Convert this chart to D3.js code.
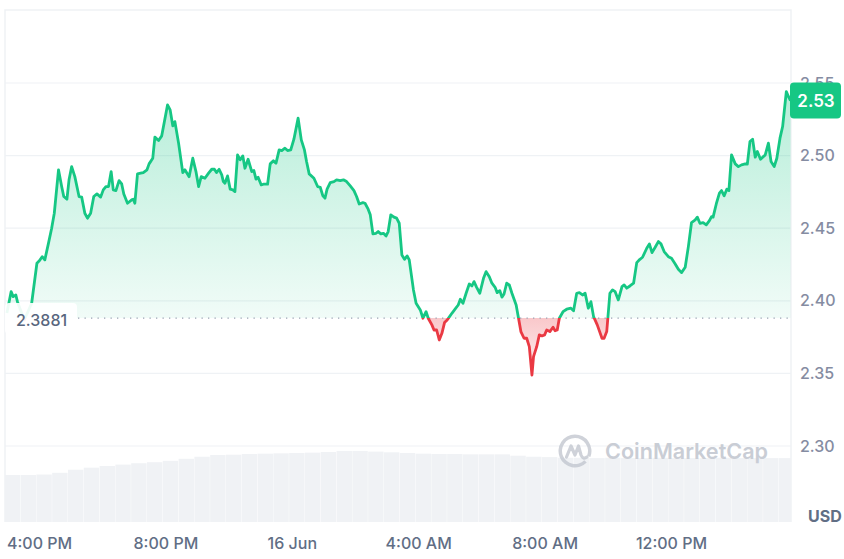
<!DOCTYPE html>
<html>
<head>
<meta charset="utf-8">
<script src="https://cdn.jsdelivr.net/npm/d3@7"></script>
<style>
    body { margin: 0; background: #fff; }
    svg text { font-family: Inter, "Noto Sans", sans-serif; }
</style>
</head>
<body>
<svg id="chart" width="844" height="559"></svg>
<script>
// minutes after 15 Jun 15:00
var priceMinutes = [
    -1, 7, 11, 16, 19, 32, 46, 56, 61, 66,
    71, 78, 84, 89, 97, 103, 107, 113, 117, 122,
    128, 136, 141, 147, 152, 158, 164, 170, 177, 182,
    187, 192, 197, 201, 206, 212, 217, 221, 228, 236,
    239, 242, 247, 253, 258, 265, 269, 276, 280, 287,
    293, 304, 309, 314, 318, 325, 333, 337, 345, 352,
    358, 363, 368, 375, 382, 388, 393, 397, 402, 407,
    410, 413, 418, 423, 428, 432, 437, 442, 447, 451,
    457, 464, 468, 472, 476, 482, 486, 494, 499, 505,
    510, 516, 521, 527, 532, 538, 544, 552, 558, 564,
    568, 573, 582, 589, 594, 599, 603, 607, 613, 620,
    625, 632, 638, 644, 651, 658, 663, 668, 675, 679,
    685, 689, 694, 700, 704, 709, 714, 719, 723, 728,
    734, 739, 744, 749, 754, 759, 763, 771, 776, 784,
    789, 795, 799, 806, 810, 815, 820, 825, 830, 835,
    844, 850, 856, 860, 865, 871, 877, 882, 886, 891,
    897, 904, 909, 915, 920, 926, 930, 935, 939, 943,
    948, 953, 958, 966, 970, 975, 981, 986, 991, 996,
    999, 1005, 1010, 1015, 1020, 1024, 1030, 1036, 1040, 1044,
    1048, 1055, 1062, 1070, 1075, 1081, 1086, 1092, 1097, 1103,
    1108, 1113, 1120, 1129, 1133, 1138, 1144, 1149, 1154, 1160,
    1167, 1171, 1176, 1182, 1189, 1195, 1201, 1206, 1214, 1219,
    1224, 1230, 1236, 1241, 1247, 1255, 1261, 1268, 1274, 1280,
    1287, 1293, 1299, 1306, 1310, 1315, 1321, 1327, 1333, 1337,
    1340, 1346, 1352, 1356, 1361, 1366, 1370, 1375, 1382, 1388,
    1394, 1401, 1405, 1410, 1415, 1420, 1424, 1430, 1439, 1445,
    1450, 1456, 1461, 1467, 1472, 1479, 1483, 1487
]

var priceValues = [
    2.3916, 2.4063, 2.4029, 2.4040, 2.3994, 2.3868, 2.3983, 2.4259, 2.4277, 2.4304,
    2.4282, 2.4397, 2.4500, 2.4603, 2.4902, 2.4787, 2.4718, 2.4700, 2.4833, 2.4924,
    2.4855, 2.4718, 2.4714, 2.4603, 2.4569, 2.4603, 2.4718, 2.4736, 2.4714, 2.4764,
    2.4787, 2.4787, 2.4890, 2.4764, 2.4759, 2.4828, 2.4805, 2.4736, 2.4672, 2.4695,
    2.4700, 2.4672, 2.4874, 2.4879, 2.4883, 2.4902, 2.4943, 2.4982, 2.5127, 2.5104,
    2.5136, 2.5349, 2.5315, 2.5205, 2.5234, 2.5086, 2.4883, 2.4902, 2.4855, 2.4982,
    2.4890, 2.4787, 2.4855, 2.4844, 2.4879, 2.4906, 2.4906, 2.4883, 2.4906, 2.4867,
    2.4821, 2.4810, 2.4860, 2.4769, 2.4764, 2.4752, 2.5005, 2.4971, 2.4998, 2.4913,
    2.4975, 2.4890, 2.4897, 2.4838, 2.4851, 2.4798, 2.4803, 2.4803, 2.4943, 2.4964,
    2.4948, 2.5039, 2.5035, 2.5051, 2.5035, 2.5039, 2.5113, 2.5258, 2.5108, 2.5039,
    2.4959, 2.4874, 2.4844, 2.4787, 2.4782, 2.4723, 2.4707, 2.4769, 2.4814, 2.4821,
    2.4833, 2.4828, 2.4833, 2.4821, 2.4791, 2.4759, 2.4718, 2.4667, 2.4676, 2.4672,
    2.4631, 2.4592, 2.4461, 2.4465, 2.4477, 2.4461, 2.4465, 2.4447, 2.4477, 2.4592,
    2.4576, 2.4569, 2.4534, 2.4316, 2.4286, 2.4309, 2.4282, 2.4075, 2.3983, 2.3937,
    2.3880, 2.3925, 2.3880, 2.3834, 2.3799, 2.3799, 2.3730, 2.3776, 2.3850, 2.3868,
    2.3914, 2.3942, 2.3971, 2.4011, 2.3983, 2.4052, 2.4116, 2.4102, 2.4132, 2.4093,
    2.4052, 2.4155, 2.4201, 2.4166, 2.4121, 2.4093, 2.4056, 2.4070, 2.4025, 2.4047,
    2.4121, 2.4109, 2.4052, 2.3971, 2.3891, 2.3788, 2.3742, 2.3742, 2.3684, 2.3489,
    2.3615, 2.3684, 2.3765, 2.3758, 2.3765, 2.3799, 2.3788, 2.3818, 2.3794, 2.3799,
    2.3880, 2.3925, 2.3942, 2.3949, 2.3932, 2.4052, 2.4056, 2.4040, 2.4052, 2.3949,
    2.3994, 2.3891, 2.3834, 2.3742, 2.3742, 2.3788, 2.4052, 2.4075, 2.4063, 2.4006,
    2.4098, 2.4109, 2.4087, 2.4102, 2.4121, 2.4263, 2.4286, 2.4300, 2.4362, 2.4392,
    2.4332, 2.4369, 2.4408, 2.4392, 2.4339, 2.4304, 2.4293, 2.4254, 2.4217, 2.4194,
    2.4231, 2.4373, 2.4539, 2.4557, 2.4576, 2.4534, 2.4539, 2.4523, 2.4552, 2.4580,
    2.4576, 2.4667, 2.4741, 2.4759, 2.4723, 2.4769, 2.4759, 2.5005, 2.4943, 2.4924,
    2.4936, 2.4943, 2.4941, 2.5097, 2.5113, 2.4989, 2.5028, 2.4975, 2.5005, 2.5086,
    2.4959, 2.4924, 2.4982, 2.5120, 2.5200, 2.5441, 2.5407, 2.5379
]

// 30 minute volume buckets, starting 15 Jun 14:55 (millions USD)
var volumeValues = [
    68.8, 68.8, 69.5, 72, 76.5, 79.5, 82, 84, 86, 87.5,
    89.5, 92.5, 95.5, 98, 98.5, 99.5, 100, 100.5, 101, 101.5,
    102.5, 104, 104, 103, 102, 101, 100, 99.5, 99.5, 99,
    99, 99, 97, 95.5, 95, 94, 94, 93.5, 94, 93.5,
    93.5, 94, 93.5, 93.5, 93.5, 94, 93.5, 93.5, 93.5, 93.5
]

var yTicks = [2.30, 2.35, 2.40, 2.45, 2.50, 2.55]
var xTickTimes = [
    new Date(2024, 5, 15, 16), new Date(2024, 5, 15, 20), new Date(2024, 5, 16, 0),
    new Date(2024, 5, 16, 4), new Date(2024, 5, 16, 8), new Date(2024, 5, 16, 12)
]
var xTickLabels = ["4:00 PM", "8:00 PM", "16 Jun", "4:00 AM", "8:00 AM", "12:00 PM"]
var baseline = 2.3881
var lastPriceLabel = "2.53"

var dims = { left: 5, right: 791, top: 10, bottom: 522 }
var green = "#16c784"
var red = "#ea3943"

var start = new Date(2024, 5, 15, 15, 0)
var volStart = new Date(2024, 5, 15, 14, 55)
var data = priceMinutes.map(function (m, i) {
    return { t: new Date(start.getTime() + m * 60000), p: priceValues[i] }
})

var xScale = d3.scaleTime()
    .domain([new Date(2024, 5, 15, 14, 55, 24), new Date(2024, 5, 16, 15, 46)])
    .range([5, 790])
var yScale = d3.scaleLinear().domain([2.30, 2.55]).range([446, 83])
var vScale = d3.scaleLinear().domain([0, 120]).range([dims.bottom, 440])

var svg = d3.select("#chart")
var yBase = yScale(baseline)

var defs = svg.append("defs")
var gg = defs.append("linearGradient").attr("id", "gGreen")
    .attr("gradientUnits", "userSpaceOnUse")
    .attr("x1", 0).attr("x2", 0).attr("y1", 85).attr("y2", yBase)
gg.append("stop").attr("offset", 0).attr("stop-color", green).attr("stop-opacity", 0.32)
gg.append("stop").attr("offset", 1).attr("stop-color", green).attr("stop-opacity", 0.06)
var gr = defs.append("linearGradient").attr("id", "gRed")
    .attr("gradientUnits", "userSpaceOnUse")
    .attr("x1", 0).attr("x2", 0).attr("y1", yBase).attr("y2", 378)
gr.append("stop").attr("offset", 0).attr("stop-color", red).attr("stop-opacity", 0.28)
gr.append("stop").attr("offset", 1).attr("stop-color", red).attr("stop-opacity", 0.06)

defs.append("clipPath").attr("id", "above").append("rect")
    .attr("x", dims.left).attr("y", 0).attr("width", dims.right - dims.left).attr("height", yBase)
defs.append("clipPath").attr("id", "below").append("rect")
    .attr("x", dims.left).attr("y", yBase).attr("width", dims.right - dims.left).attr("height", 559 - yBase)
defs.append("clipPath").attr("id", "plot").append("rect")
    .attr("x", dims.left).attr("y", dims.top).attr("width", dims.right - dims.left).attr("height", dims.bottom - dims.top)

// frame
svg.append("path")
    .attr("d", "M" + dims.left + "," + dims.bottom + "V" + dims.top + "H" + dims.right + "V" + dims.bottom)
    .attr("fill", "none")
    .attr("stroke", "#eff2f5")
    .attr("stroke-width", 1.5)

// gridlines
svg.selectAll(".grid")
    .data(yTicks)
    .enter()
    .append("line")
    .attr("x1", dims.left).attr("x2", dims.right)
    .attr("y1", function (d) { return yScale(d) })
    .attr("y2", function (d) { return yScale(d) })
    .attr("stroke", "#eff2f5")
    .attr("stroke-width", 1.2)

// volume
svg.append("g")
    .attr("clip-path", "url(#plot)")
    .selectAll("rect")
    .data(volumeValues)
    .enter()
    .append("rect")
    .attr("x", function (d, i) { return xScale(new Date(volStart.getTime() + i * 1800000)) })
    .attr("width", function (d, i) {
        var a = new Date(volStart.getTime() + i * 1800000)
        return xScale(new Date(a.getTime() + 1800000)) - xScale(a) - 0.4
    })
    .attr("y", function (d) { return vScale(d) })
    .attr("height", function (d) { return dims.bottom - vScale(d) })
    .attr("fill", "#f0f2f5")

// watermark
var wm = svg.append("g").attr("transform", "translate(575,451)").attr("opacity", 0.75)
wm.append("path")
    .attr("d", d3.arc()({ innerRadius: 13, outerRadius: 16.5, startAngle: 2.35, endAngle: 2 * Math.PI + 1.95 }))
    .attr("fill", "#bfc4cd")
wm.append("path")
    .attr("d", "M-8.5,6 L-4,-5 L0,4 L3.5,-5 L6,4 Q8,9 12,6")
    .attr("fill", "none")
    .attr("stroke", "#bfc4cd")
    .attr("stroke-width", 3.2)
    .attr("stroke-linejoin", "round")
    .attr("stroke-linecap", "round")
svg.append("text")
    .attr("x", 605).attr("y", 459)
    .attr("textLength", 163).attr("lengthAdjust", "spacingAndGlyphs")
    .style("font-size", "22px").style("font-weight", 600)
    .attr("fill", "#c9cdd5")
    .text("CoinMarketCap")

// areas and lines
var area = d3.area()
    .x(function (d) { return xScale(d.t) })
    .y0(yBase)
    .y1(function (d) { return yScale(d.p) })
var line = d3.line()
    .x(function (d) { return xScale(d.t) })
    .y(function (d) { return yScale(d.p) })

svg.append("path").attr("d", area(data)).attr("fill", "url(#gGreen)").attr("clip-path", "url(#above)")
svg.append("path").attr("d", area(data)).attr("fill", "url(#gRed)").attr("clip-path", "url(#below)")

svg.append("line")
    .attr("x1", 78).attr("x2", dims.right - 2)
    .attr("y1", yBase).attr("y2", yBase)
    .attr("stroke", "#9aa3b2")
    .attr("stroke-width", 1.3)
    .attr("stroke-dasharray", "1.3,5.2")

svg.append("path").attr("d", line(data))
    .attr("fill", "none").attr("stroke", green).attr("stroke-width", 2.8)
    .attr("stroke-linejoin", "round").attr("clip-path", "url(#above)")
svg.append("path").attr("d", line(data))
    .attr("fill", "none").attr("stroke", red).attr("stroke-width", 2.8)
    .attr("stroke-linejoin", "round").attr("clip-path", "url(#below)")

// baseline label
svg.append("rect")
    .attr("x", 5).attr("y", yBase - 15).attr("width", 72).attr("height", 31).attr("rx", 4)
    .attr("fill", "#fff").attr("opacity", 0.92)
svg.append("text")
    .attr("x", 16).attr("y", yBase + 8)
    .style("font-size", "16px").style("font-weight", 500)
    .attr("fill", "#58667e")
    .text(d3.format(".4f")(baseline))

// y axis labels
var yAxis = d3.axisRight(yScale).tickValues(yTicks).tickSize(0).tickFormat(d3.format(".2f"))
var yg = svg.append("g").attr("transform", "translate(799,0)").call(yAxis)
yg.select(".domain").remove()
yg.selectAll("text")
    .attr("x", 1)
    .style("font-family", "Inter, sans-serif")
    .style("font-size", "16px")
    .style("font-weight", 500)
    .attr("fill", "#858ca2")

// current price tag
var lastY = yScale(priceValues[priceValues.length - 1])
svg.append("rect")
    .attr("x", 790).attr("y", lastY - 18).attr("width", 51).attr("height", 36).attr("rx", 4)
    .attr("fill", green)
svg.append("text")
    .attr("x", 816).attr("y", lastY + 6.5)
    .attr("text-anchor", "middle")
    .style("font-size", "17px").style("font-weight", 600)
    .attr("fill", "#fff")
    .text(lastPriceLabel)

// x axis labels
var xAxis = d3.axisBottom(xScale).tickValues(xTickTimes).tickSize(0)
    .tickFormat(function (d, i) { return xTickLabels[i] })
var xg = svg.append("g").attr("transform", "translate(0,536)").call(xAxis)
xg.select(".domain").remove()
xg.selectAll("text")
    .attr("y", 0).attr("dy", "0.8em")
    .style("font-family", "Inter, sans-serif")
    .style("font-size", "16px")
    .style("font-weight", 500)
    .attr("fill", "#616e85")

svg.append("text")
    .attr("x", 808).attr("y", 522)
    .style("font-size", "16px").style("font-weight", 700)
    .attr("fill", "#616e85")
    .text("USD")
</script>
</body>
</html>
